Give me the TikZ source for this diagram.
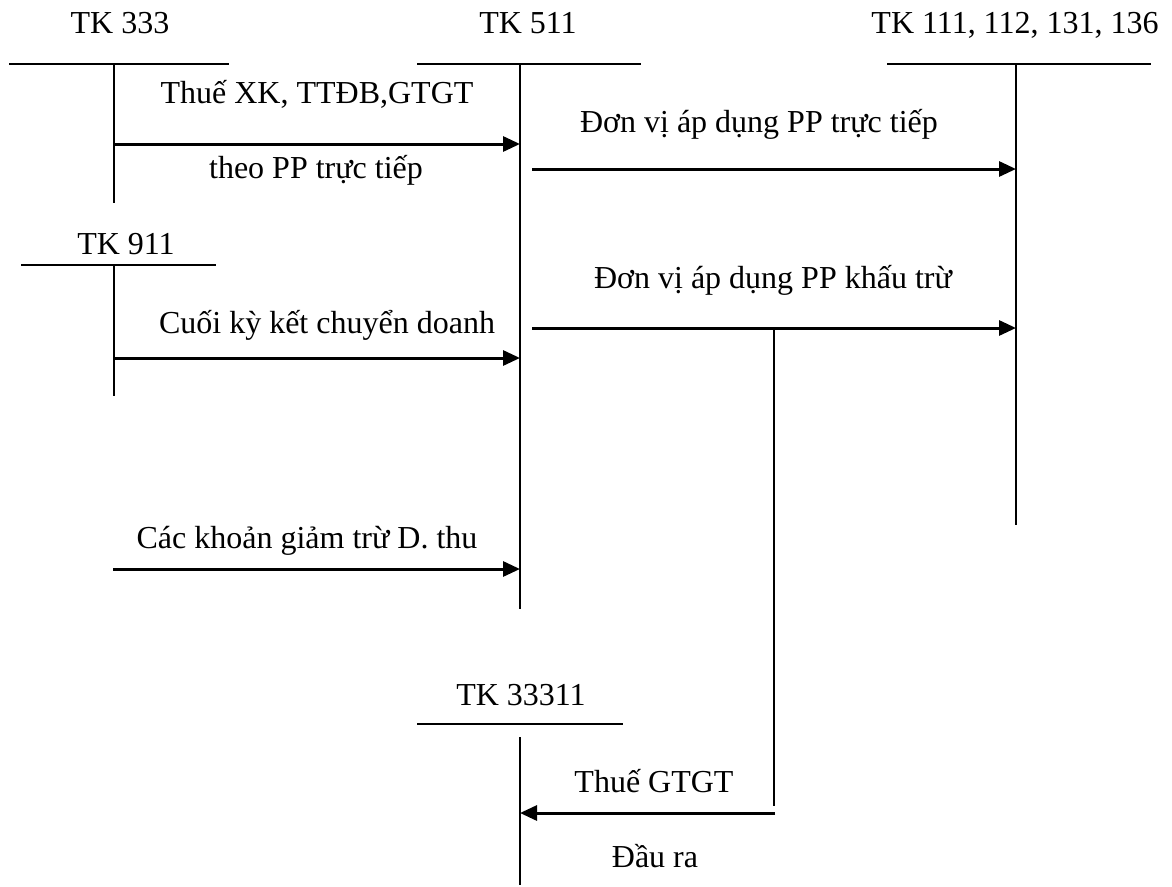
\documentclass[tikz,border=0pt]{standalone}
\usepackage{fontspec}
\setmainfont{Liberation Serif}
\usetikzlibrary{arrows.meta}
\begin{document}
\begin{tikzpicture}[x=1pt,y=-1pt,
  tline/.style={line width=2.2pt},
  flow/.style={line width=3pt,-{Triangle[length=17pt,width=15pt]}},
  lbl/.style={anchor=base,inner sep=0pt,font=\fontsize{32}{38}\selectfont}]
\useasboundingbox (0,0) rectangle (1172,886);

% account titles
\node[lbl] (t333)   at (120,33)  {TK 333};
\node[lbl] (t511)   at (528,33)  {TK 511};
\node[lbl] (t111)   at (1015,33) {TK 111, 112, 131, 136};
\node[lbl] (t911)   at (126,254) {TK 911};
\node[lbl] (t33311) at (521,705) {TK 33311};

% T-account end points
\coordinate (a333l) at (9,64);    \coordinate (a333r) at (229,64);
\coordinate (a333t) at (114,64);  \coordinate (a333b) at (114,203);
\coordinate (a511l) at (417,64);  \coordinate (a511r) at (641,64);
\coordinate (a511t) at (520,64);  \coordinate (a511b) at (520,609);
\coordinate (a111l) at (887,64);  \coordinate (a111r) at (1151,64);
\coordinate (a111t) at (1016,64); \coordinate (a111b) at (1016,525);
\coordinate (a911l) at (21,265);  \coordinate (a911r) at (216,265);
\coordinate (a911t) at (114,265); \coordinate (a911b) at (114,396);
\coordinate (a33l) at (417,724);  \coordinate (a33r) at (623,724);
\coordinate (a33t) at (520,737);  \coordinate (a33b) at (520,885);

% T-accounts
\draw[tline] (a333l) -- (a333r) (a333t) -- (a333b);
\draw[tline] (a511l) -- (a511r) (a511t) -- (a511b);
\draw[tline] (a111l) -- (a111r) (a111t) -- (a111b);
\draw[tline] (a911l) -- (a911r) (a911t) -- (a911b);
\draw[tline] (a33l) -- (a33r) (a33t) -- (a33b);

% flow end points
\coordinate (f1s) at (114,144); \coordinate (f1e) at (520,144);
\coordinate (f2s) at (532,169); \coordinate (f2e) at (1016,169);
\coordinate (f3s) at (532,328); \coordinate (f3e) at (1016,328);
\coordinate (f4s) at (114,358); \coordinate (f4e) at (520,358);
\coordinate (f5s) at (113,569); \coordinate (f5e) at (520,569);
\coordinate (brt) at (774,328); \coordinate (brb) at (774,806);
\coordinate (f6s) at (775,813); \coordinate (f6e) at (520,813);

% flows
\draw[flow] (f1s) -- (f1e);
\draw[flow] (f2s) -- (f2e);
\draw[flow] (f3s) -- (f3e);
\draw[flow] (f4s) -- (f4e);
\draw[flow] (f5s) -- (f5e);
\draw[tline] (brt) -- (brb);
\draw[flow] (f6s) -- (f6e);

% flow labels
\node[lbl] (l1a) at (317,103) {Thuế XK, TTĐB,GTGT};
\node[lbl] (l1b) at (316,178) {theo PP trực tiếp};
\node[lbl] (l2)  at (759,132) {Đơn vị áp dụng PP trực tiếp};
\node[lbl] (l3)  at (773,288) {Đơn vị áp dụng PP khấu trừ};
\node[lbl] (l4)  at (327,333) {Cuối kỳ kết chuyển doanh};
\node[lbl] (l5)  at (307,548) {Các khoản giảm trừ D. thu};
\node[lbl] (l6a) at (654,792) {Thuế GTGT};
\node[lbl] (l6b) at (655,867) {Đầu ra};
\end{tikzpicture}
\end{document}
